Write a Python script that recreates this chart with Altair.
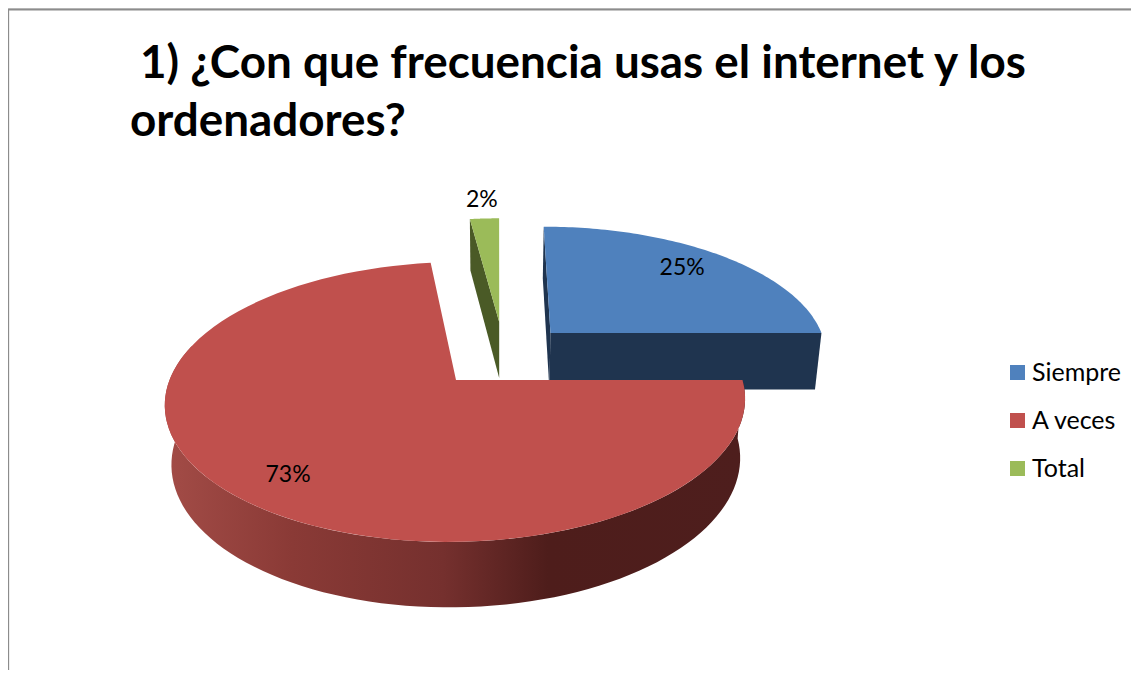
import math
import altair as alt
import pandas as pd

# Data
categories = ["Siempre", "A veces", "Total"]
percentages = [25, 73, 2]
colors = ["#4f81bd", "#c0504d", "#9bbb59"]
wall_colors = ["#1f344f", "#501e1c", "#4a5a26"]
title_lines = [" 1) ¿Con que frecuencia usas el internet y los", "ordenadores?"]

# Drawing constants for the tilted, exploded pie
EXPLODE = {"Siempre": (0.34, -0.364), "A veces": (0.0, 0.0), "Total": (0.151, -0.455)}
LABEL_AT = {"Siempre": (0.79, -1.5), "A veces": (0.81, -2.0), "Total": (1.21, 0.0)}
PERSP = 0.157
VX = 43 / 290      # vanishing column, in plot units
FONT = "Lato"
UX, UY = 286.5, 136.5  # pixels per plot unit


def project(u, v):
    w = 1 - PERSP * v
    return VX + (u - VX) / w, v / w


def bottom(p):
    return VX + 0.98 * (p[0] - VX), 1.043 * p[1] + 58.5 / UY


def rim(name, a0, a1, n=90):
    ox, oy = EXPLODE[name]
    out = []
    for k in range(n + 1):
        t = math.radians(a0 + (a1 - a0) * k / n)
        out.append(project(ox + math.sin(t), oy - math.cos(t)))
    return out


def frame(points, **extra):
    return pd.DataFrame(
        [{"px": p[0], "py": p[1], "i": i, **extra} for i, p in enumerate(points)]
    )


W, H = 1123, 662
x_enc = alt.X("px:Q", axis=None, scale=alt.Scale(domain=[-448 / UX, (W - 448) / UX], nice=False, zero=False))
y_enc = alt.Y("py:Q", axis=None, scale=alt.Scale(domain=[-372 / UY, (H - 372) / UY], nice=False, zero=False, reverse=True))


def poly(points, fill):
    return (
        alt.Chart(frame(points))
        .mark_line(fill=fill, strokeWidth=0, stroke="transparent", clip=True)
        .encode(x=x_enc, y=y_enc, order="i:Q")
    )


# Slice angles from the percentages, clockwise from 12 o'clock
starts, acc = {}, 0.0
for c, p in zip(categories, percentages):
    starts[c] = (acc, acc + p * 3.6)
    acc += p * 3.6

walls, tops = [], []
for c, col, wc in zip(["Siempre", "Total", "A veces"],
                      [colors[0], colors[2], colors[1]],
                      [wall_colors[0], wall_colors[2], wall_colors[1]]):
    a0, a1 = starts[c]
    apex = project(*EXPLODE[c])
    arc = rim(c, a0, a1)
    # radial cut faces
    if c == "Siempre":
        walls.append(poly([apex, arc[-1], bottom(arc[-1]), bottom(apex)], wc))
        walls.append(poly([apex, arc[0], bottom(arc[0]), bottom(apex)], wc))
    if c == "Total":
        walls.append(poly([apex, arc[0], bottom(arc[0]), bottom(apex)], wc))
    # outer wall
    if c == "A veces":
        front = rim(c, a0, 285)
        fill = alt.Gradient(
            gradient="linear", x1=0, y1=0, x2=1, y2=0,
            stops=[
                alt.GradientStop(color="#a34c47", offset=0),
                alt.GradientStop(color="#8a3a36", offset=0.22),
                alt.GradientStop(color="#75302e", offset=0.48),
                alt.GradientStop(color="#4e1d1b", offset=0.66),
                alt.GradientStop(color="#4e1e1d", offset=1),
            ],
        )
        walls.append(poly(front + [bottom(p) for p in reversed(front)], fill))
    tops.append(frame([apex] + arc, serie=c))

top_df = pd.concat(tops, ignore_index=True)
top_layer = (
    alt.Chart(top_df)
    .mark_line(strokeWidth=0, clip=True)
    .encode(
        x=x_enc,
        y=y_enc,
        order="i:Q",
        fill=alt.Fill(
            "serie:N",
            sort=categories,
            scale=alt.Scale(domain=categories, range=colors),
            legend=alt.Legend(
                title=None,
                orient="none",
                legendX=997,
                legendY=352,
                symbolType="square",
                symbolSize=225,
                symbolStrokeWidth=0,
                labelFont=FONT,
                labelFontSize=25,
                labelColor="#000000",
                labelOffset=2,
                rowPadding=22,
            ),
        ),
    )
)

# Data labels, placed along each slice's middle direction
rows = []
for c, p in zip(categories, percentages):
    a0, a1 = starts[c]
    r, shift = LABEL_AT[c]
    t = math.radians((a0 + a1) / 2 + shift)
    ox, oy = EXPLODE[c]
    lx, ly = project(ox + r * math.sin(t), oy - r * math.cos(t))
    rows.append({"px": lx, "py": ly, "label": f"{p}%"})
labels = (
    alt.Chart(pd.DataFrame(rows))
    .mark_text(font=FONT, fontSize=23, color="#000000", baseline="middle", align="center")
    .encode(x=x_enc, y=y_enc, text="label:N")
)

# Title, as two real text lines
title1 = (
    alt.Chart(pd.DataFrame({"t": [title_lines[0].strip()]}))
    .mark_text(font=FONT, fontWeight="bold", fontSize=45.8, color="#000000", align="left", baseline="alphabetic")
    .encode(x=alt.value(132), y=alt.value(70), text="t:N")
)
title2 = (
    alt.Chart(pd.DataFrame({"t": [title_lines[1]]}))
    .mark_text(font=FONT, fontWeight="bold", fontSize=45.8, color="#000000", align="left", baseline="alphabetic")
    .encode(x=alt.value(122), y=alt.value(128), text="t:N")
)

# Grey outer border: top and left only are in view
rule_top = alt.Chart(pd.DataFrame({"a": [0]})).mark_rule(color="#8c8c8c", strokeWidth=2).encode(
    x=alt.value(0), x2=alt.value(W), y=alt.value(1.5)
)
rule_left = alt.Chart(pd.DataFrame({"a": [0]})).mark_rule(color="#8c8c8c", strokeWidth=1.5).encode(
    x=alt.value(0.4), y=alt.value(1), y2=alt.value(H)
)

chart = (
    alt.layer(rule_top, rule_left, *walls, top_layer, labels, title1, title2)
    .properties(width=W, height=H, padding=0, autosize=alt.AutoSizeParams(type="none"))
    .configure_view(strokeWidth=0)
    .configure(background="white")
)

chart.save("out.html", embed_options={"renderer": "svg", "actions": False})
